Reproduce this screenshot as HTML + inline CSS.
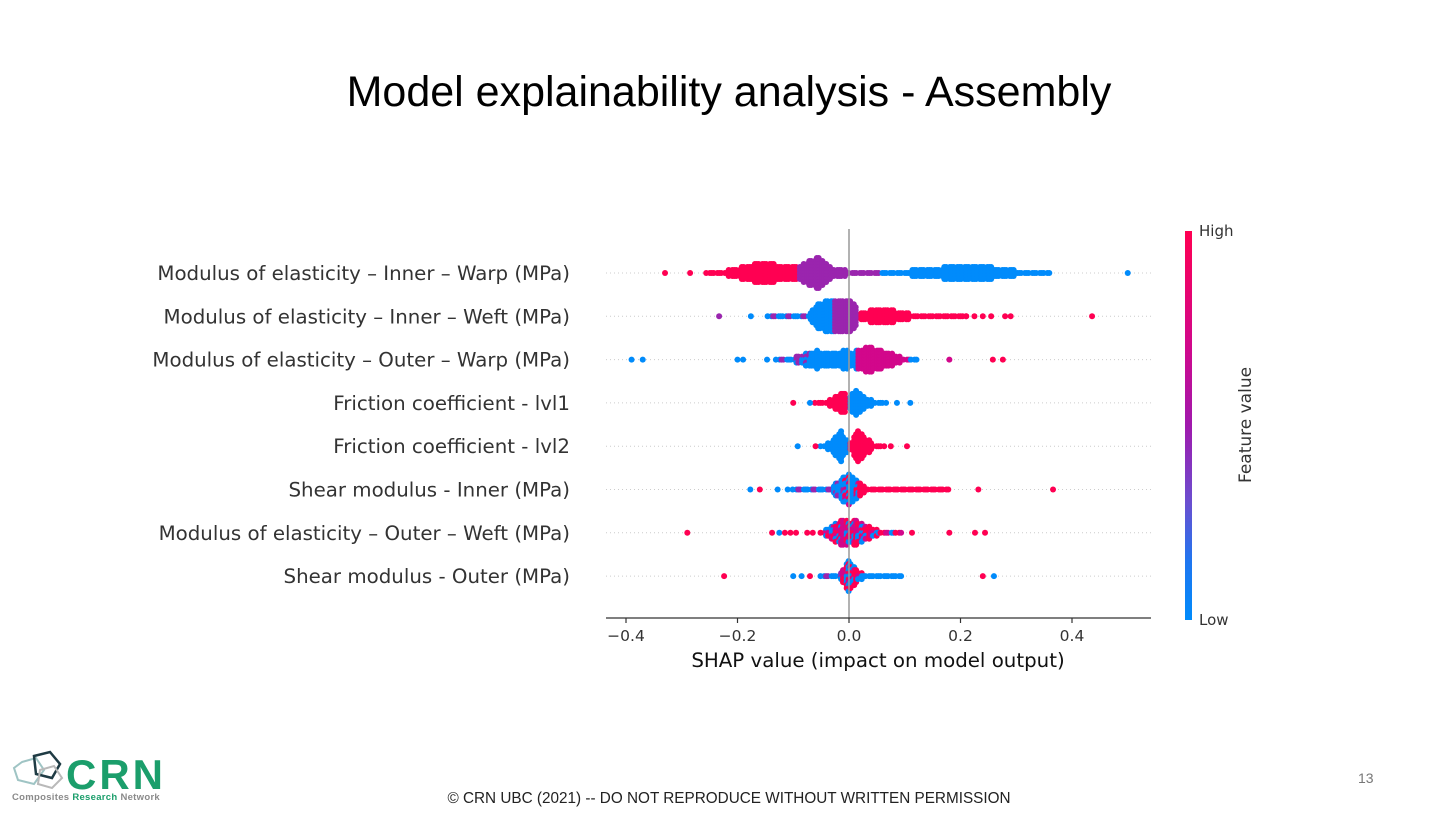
<!DOCTYPE html>
<html><head><meta charset="utf-8">
<style>
body{margin:0;background:#fff;width:1453px;height:815px;overflow:hidden;position:relative;font-family:"DejaVu Sans","Liberation Sans",sans-serif}
#title{position:absolute;left:0;width:1458px;top:68px;text-align:center;font:43px "Liberation Sans",sans-serif;color:#000}
#footer{position:absolute;left:0;width:1458px;top:790px;text-align:center;font:15.3px "Liberation Sans",sans-serif;color:#222}
#page{position:absolute;left:1358px;top:770px;font:14px "Liberation Sans",sans-serif;color:#777}
svg{position:absolute;left:0;top:0}
</style></head><body>
<div id="title">Model explainability analysis - Assembly</div>
<div id="footer">© CRN UBC (2021) -- DO NOT REPRODUCE WITHOUT WRITTEN PERMISSION</div>
<div id="page">13</div>
<svg width="200" height="815">
  <polygon points="22,762 36,758 44,770 34,784 18,780 14,768" fill="none" stroke="#9fc4c4" stroke-width="2"/>
  <polygon points="34,756 50,752 60,764 52,778 36,774" fill="none" stroke="#1f3b44" stroke-width="2.5"/>
  <polygon points="40,770 54,766 62,778 52,788 38,784" fill="none" stroke="#b9b9b9" stroke-width="2"/>
  <text x="66" y="789" font-family="Liberation Sans, sans-serif" font-weight="bold" font-size="42" letter-spacing="3" fill="#1b9e6b">CRN</text>
  <text x="12" y="800" font-family="Liberation Sans, sans-serif" font-weight="bold" font-size="9.5" letter-spacing="0.3" fill="#8a8a8a">Composites <tspan fill="#1b9e6b">Research</tspan> Network</text>
</svg>
<svg id="chart" width="1453" height="815">
  <defs><linearGradient id="cb" x1="0" y1="0" x2="0" y2="1">
    <stop offset="0" stop-color="#ff0052"/><stop offset="0.3" stop-color="#d0088c"/><stop offset="0.5" stop-color="#a019ad"/>
    <stop offset="0.7" stop-color="#6a4fd0"/><stop offset="0.85" stop-color="#1f76f0"/><stop offset="1" stop-color="#008bfb"/>
  </linearGradient></defs>
  <g id="grid"></g><g id="dots"></g><g id="axes"></g>
  <rect x="1185" y="231" width="7" height="389" fill="url(#cb)"/>
  <text x="1199" y="236" font-size="15" fill="#333">High</text>
  <text x="1199" y="625" font-size="15" fill="#333">Low</text>
  <text transform="translate(1251,425) rotate(-90)" text-anchor="middle" font-size="17" fill="#333">Feature value</text>
</svg>
<script>
const features=["Modulus of elasticity – Inner – Warp (MPa)","Modulus of elasticity – Inner – Weft (MPa)","Modulus of elasticity – Outer – Warp (MPa)","Friction coefficient - lvl1","Friction coefficient - lvl2","Shear modulus - Inner (MPa)","Modulus of elasticity – Outer – Weft (MPa)","Shear modulus - Outer (MPa)"];
const xTicks=[-0.4,-0.2,0,0.2,0.4];
const xTickLabels=["−0.4","−0.2","0.0","0.2","0.4"];
// density profiles: [shap value, density]
const profile1=[[-0.255,2],[-0.22,5],[-0.18,11],[-0.145,13],[-0.11,9],[-0.09,10],[-0.055,19],[-0.03,8],[0,5],[0.05,2],[0.063,3],[0.12,6],[0.2,10],[0.23,11],[0.29,6],[0.34,3],[0.36,2]];
const profile2=[[-0.145,2],[-0.1,3],[-0.07,5],[-0.057,16],[-0.02,20],[0.01,17],[0.016,5],[0.03,8],[0.063,11],[0.1,6],[0.15,3],[0.2,2],[0.21,1.5]];
const profile3=[[-0.13,2],[-0.09,6],[-0.06,12],[-0.03,9],[-0.01,12],[0.01,11],[0.036,16],[0.07,10],[0.1,4],[0.125,2]];
const profile4=[[-0.06,2],[-0.04,4],[-0.02,10],[-0.008,15],[-0.002,8],[0.004,10],[0.012,15],[0.03,8],[0.05,3],[0.07,2]];
const profile5=[[-0.05,2],[-0.03,8],[-0.015,19],[-0.005,10],[0,3],[0.005,10],[0.017,19],[0.04,6],[0.065,2]];
const profile6=[[-0.1,2],[-0.04,3],[-0.025,8],[-0.01,16],[0,18],[0.015,12],[0.03,5],[0.06,3],[0.12,2],[0.18,1.5]];
const profile7=[[-0.05,2],[-0.03,10],[-0.01,17],[0,12],[0.01,16],[0.03,10],[0.06,4],[0.095,2]];
const profile8=[[-0.05,2],[-0.02,4],[-0.01,10],[0,20],[0.01,12],[0.02,6],[0.04,3],[0.095,2]];
// feature-value colour ranges: [from, to, class]
const colors1=[[-0.26,-0.093,"R"],[-0.093,0.055,"P"],[0.055,0.37,"B"]];
const colors2=[[-0.15,-0.07,"X"],[-0.07,-0.025,"B"],[-0.025,0.018,"P"],[0.018,0.3,"R"]];
const colors3=[[-0.13,-0.07,"X"],[-0.07,-0.025,"B"],[-0.025,0.015,"B"],[0.015,0.11,"M"],[0.11,0.13,"B"]];
const colors4=[[-0.07,0,"R"],[0,0.08,"B"]];
const colors5=[[-0.06,0.002,"B"],[0.002,0.08,"R"]];
const colors6=[[-0.1,-0.01,"X"],[-0.01,0.02,"Y"],[0.02,0.19,"R"]];
const colors7=[[-0.06,0.1,"Z"]];
const colors8=[[-0.05,-0.01,"X"],[-0.01,0.03,"Y"],[0.03,0.1,"B"]];
// outlier points: [shap value, class]
const outliers1=[[-0.33,"R"],[-0.285,"R"],[0.50,"B"]];
const outliers2=[[-0.233,"P"],[-0.176,"B"],[0.21,"R"],[0.225,"R"],[0.24,"R"],[0.255,"R"],[0.28,"R"],[0.29,"R"],[0.436,"R"]];
const outliers3=[[-0.39,"B"],[-0.37,"B"],[-0.2,"B"],[-0.19,"B"],[-0.147,"B"],[0.18,"M"],[0.258,"R"],[0.276,"R"]];
const outliers4=[[-0.1,"R"],[-0.07,"B"],[0.086,"B"],[0.11,"B"]];
const outliers5=[[-0.092,"B"],[-0.06,"R"],[0.075,"R"],[0.104,"R"]];
const outliers6=[[-0.177,"B"],[-0.16,"R"],[-0.128,"B"],[-0.11,"B"],[0.232,"R"],[0.366,"R"]];
const outliers7=[[-0.29,"R"],[-0.138,"R"],[-0.125,"B"],[-0.115,"R"],[-0.105,"R"],[-0.095,"R"],[-0.075,"R"],[-0.065,"R"],[0.113,"R"],[0.18,"R"],[0.226,"R"],[0.244,"R"]];
const outliers8=[[-0.224,"R"],[-0.1,"B"],[-0.085,"B"],[-0.07,"R"],[0.24,"R"],[0.26,"B"]];

const profiles=[profile1,profile2,profile3,profile4,profile5,profile6,profile7,profile8];
const colorSets=[colors1,colors2,colors3,colors4,colors5,colors6,colors7,colors8];
const outlierSets=[outliers1,outliers2,outliers3,outliers4,outliers5,outliers6,outliers7,outliers8];

const NS="http://www.w3.org/2000/svg";
const X0=849, PXU=557.5, axL=606, axR=1151, axY=618, rowTop=273, rowStep=43.3;
const xS=v=>X0+v*PXU;
const yS=i=>rowTop+i*rowStep;
const PAL={R:"#ff0052",B:"#008bfb",P:"#9a25ae",M:"#d2078b"};
function cls(c,i,j){
  const h=(i*7+j*13+((i*j)%5))%6;
  if(c==="X")return h<4?PAL.B:PAL.P;
  if(c==="Y")return h<3?PAL.B:(h<5?PAL.R:PAL.M);
  if(c==="Z")return h<2?PAL.B:(h<4?PAL.R:PAL.M);
  return PAL[c];
}
function mk(tag,attrs,parent){const e=document.createElementNS(NS,tag);for(const k in attrs)e.setAttribute(k,attrs[k]);parent.appendChild(e);return e;}
const grid=document.getElementById('grid'),dots=document.getElementById('dots'),axes=document.getElementById('axes');
features.forEach((f,i)=>{
  const y=yS(i);
  const gl=mk('line',{x1:axL,x2:axR,y1:y,y2:y,stroke:'#ccc','stroke-width':1,'stroke-dasharray':'1,3'},grid);
  
  
  const t=mk('text',{x:570,y:y+7,'text-anchor':'end','font-size':19.8,fill:'#333'},axes);
  t.textContent=f;
  
  
  const g=mk('g',{},dots);
  
  
  const p=profiles[i],cs=colorSets[i];
  const x1=xS(p[0][0]),x2=xS(p[p.length-1][0]);
  let ci=0;
  for(let px=x1;px<=x2;px+=2.5,ci++){
    const v=(px-X0)/PXU;
    let h=p[0][1];
    for(let k=0;k<p.length-1;k++){if(v>=p[k][0]&&v<=p[k+1][0]){const t2=(v-p[k][0])/(p[k+1][0]-p[k][0]);h=p[k][1]+t2*(p[k+1][1]-p[k][1]);break;}}
    h=Math.max(0,h-2.5);
    let c="B";for(const s of cs){if(v>=s[0]&&v<=s[1]){c=s[2];break;}}
    const n=Math.floor(h/3);
    for(let j=-n;j<=n;j++){
      const jit=((ci*5+j*3)%3-1)*0.6;
      const d=mk('circle',{cx:(px+jit).toFixed(1),cy:(y+j*3).toFixed(1),r:3,fill:cls(c,ci,j+50)},g);
      
      
    }
  }
  outlierSets[i].forEach(o=>{
    const d=mk('circle',{cx:xS(o[0]),cy:y,r:3,fill:PAL[o[1]]},g);
    
    
  });
});
const zl=mk('line',{x1:X0,x2:X0,y1:229,y2:axY,stroke:'#999','stroke-width':1.5},axes);


const ax=mk('line',{x1:axL,x2:axR,y1:axY,y2:axY,stroke:'#333','stroke-width':1.2},axes);


xTicks.forEach((v,k)=>{
  const tk=mk('line',{x1:xS(v),x2:xS(v),y1:axY,y2:axY+5,stroke:'#333','stroke-width':1.2},axes);
  
  
  const tl=mk('text',{x:xS(v),y:axY+23,'text-anchor':'middle','font-size':15.5,fill:'#333'},axes);
  tl.textContent=xTickLabels[k];
  
  
});
const xt=mk('text',{x:878,y:667,'text-anchor':'middle','font-size':19.8,fill:'#111'},axes);
xt.textContent="SHAP value (impact on model output)";


</script>
</body></html>
